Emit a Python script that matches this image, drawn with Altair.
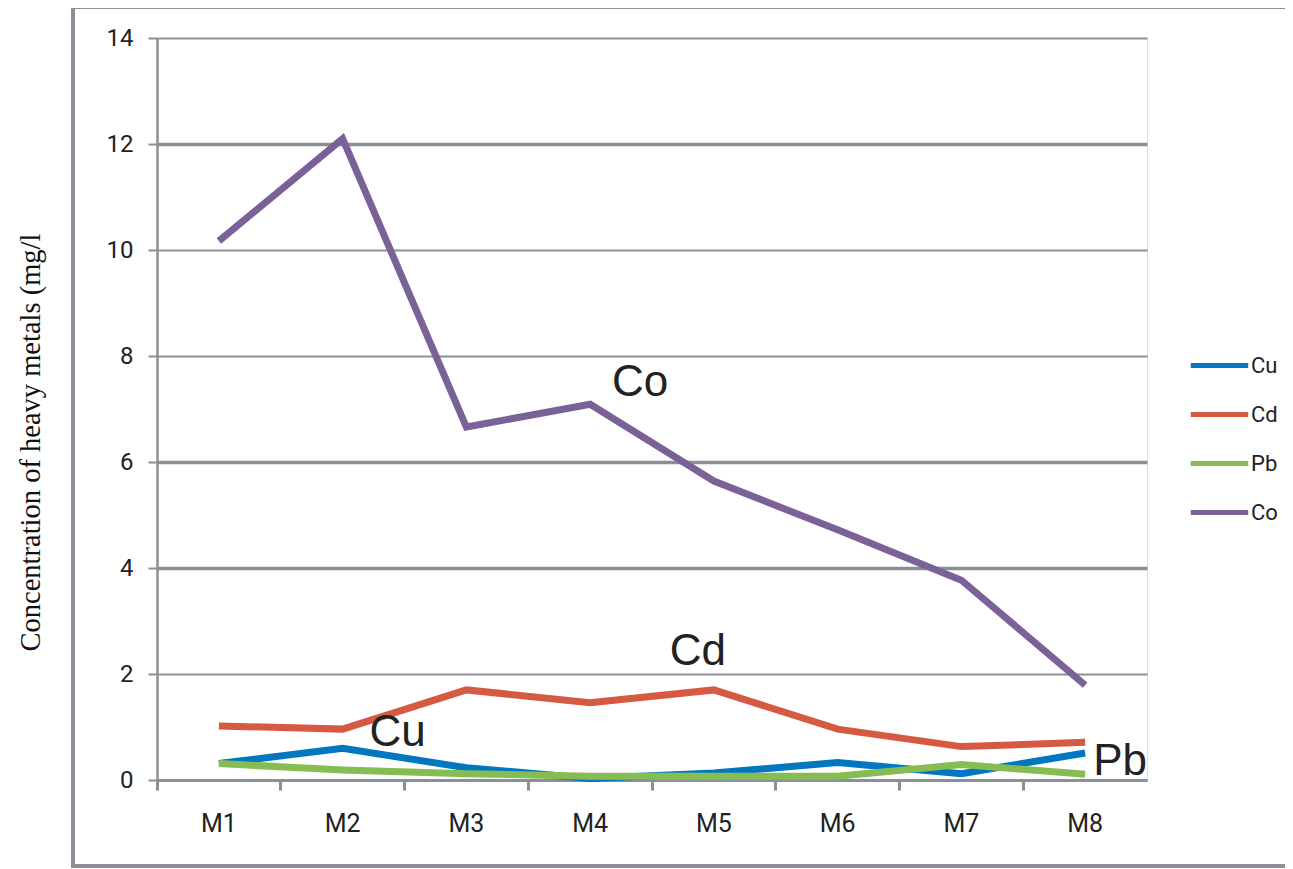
import altair as alt
import pandas as pd

sites = ["M1", "M2", "M3", "M4", "M5", "M6", "M7", "M8"]
cu = [0.31, 0.60, 0.23, 0.03, 0.13, 0.33, 0.12, 0.51]
cd = [1.02, 0.96, 1.70, 1.46, 1.70, 0.96, 0.63, 0.71]
pb = [0.31, 0.19, 0.12, 0.07, 0.07, 0.07, 0.29, 0.11]
co = [10.17, 12.10, 6.66, 7.09, 5.64, 4.72, 3.77, 1.79]

metals = ["Cu", "Cd", "Pb", "Co"]
colors = ["#0077BE", "#D65A42", "#86BD53", "#7A6198"]

ann_text = ["Co", "Cd", "Cu", "Pb"]
ann_site = ["M4", "M5", "M2", "M8"]
ann_value = [7.49, 2.42, 0.89, 0.34]
ann_dx = [50, -16, 55, 35]

rows = []
for name, vals in zip(metals, [cu, cd, pb, co]):
    for s, v in zip(sites, vals):
        rows.append({"site": s, "metal": name, "value": v})
df = pd.DataFrame(rows)
ann = pd.DataFrame({"text": ann_text, "site": ann_site, "value": ann_value, "dx": ann_dx})

W, H = 990, 742
BAND_HALF = W / len(sites) / 2
grid_gray = "#8A9097"

x_enc = alt.X(
    "site:N", sort=sites, title=None,
    scale=alt.Scale(domain=sites, paddingInner=0, paddingOuter=0),
    axis=alt.Axis(
        labelAngle=0, labelFont="Roboto", labelFontSize=25, labelColor="#222222",
        labelPadding=21, domainColor=grid_gray, domainWidth=3, tickColor=grid_gray,
        tickWidth=3, tickSize=10, bandPosition=0, grid=False,
    ),
)
y_enc = alt.Y(
    "value:Q",
    scale=alt.Scale(domain=[0, 14], nice=False),
    axis=alt.Axis(
        values=[0, 2, 4, 6, 8, 10, 12, 14],
        title="Concentration of heavy metals (mg/l",
        titleFont="Liberation Serif", titleFontSize=28.5, titleFontWeight="normal",
        titleColor="#111111", titleAngle=-90, titleX=-127, titleY=404,
        titleAlign="center", titleBaseline="middle",
        labelFont="Roboto", labelFontSize=24, labelColor="#222222", labelPadding=15,
        domainColor=grid_gray, domainWidth=2.5, tickColor=grid_gray, tickWidth=2,
        tickSize=9, grid=True, gridColor=grid_gray,
        gridWidth={"condition": {"test": "datum.value == 12 || datum.value == 4 || datum.value == 6",
                                 "value": 3.5}, "value": 2},
    ),
)

lines = alt.Chart(df).mark_line(strokeWidth=7, strokeJoin="miter", strokeCap="butt").encode(
    x=x_enc,
    y=y_enc,
    color=alt.Color(
        "metal:N",
        scale=alt.Scale(domain=metals, range=colors),
        legend=alt.Legend(
            title=None, orient="none", legendX=1031, legendY=296,
            symbolType="stroke", symbolStrokeWidth=5, symbolSize=3300,
            labelFont="Roboto", labelFontSize=22, labelColor="#222222",
            labelOffset=0, rowPadding=6,
        ),
    ),
    order=alt.Order("site:N"),
)

labels = alt.Chart(ann).transform_calculate(
    off=f"datum.dx + {BAND_HALF}"
).mark_text(
    font="Liberation Sans", fontSize=44, color="#222222", align="center", baseline="middle"
).encode(
    x=alt.X("site:N", sort=sites, scale=alt.Scale(domain=sites)),
    y=alt.Y("value:Q"),
    text="text:N",
    xOffset=alt.XOffset("off:Q", scale=None),
)

frame_gray = "#8A9097"
frame_left = alt.Chart(pd.DataFrame({"a": [0]})).mark_rule(color=frame_gray, strokeWidth=4, clip=False).encode(
    x=alt.value(-84), y=alt.value(-31), y2=alt.value(828)
)
frame_top = alt.Chart(pd.DataFrame({"a": [0]})).mark_rule(color=frame_gray, strokeWidth=4, clip=False).encode(
    x=alt.value(-86), x2=alt.value(1134), y=alt.value(-31)
)
frame_bottom = alt.Chart(pd.DataFrame({"a": [0]})).mark_rule(color=frame_gray, strokeWidth=4, clip=False).encode(
    x=alt.value(-86), x2=alt.value(1134), y=alt.value(828)
)

chart = alt.layer(frame_left, frame_top, frame_bottom, lines, labels).properties(
    width=W, height=H,
    autosize=alt.AutoSizeParams(type="none"),
    padding={"left": 149, "top": 30, "right": 138, "bottom": 88},
).configure_view(stroke=None).configure(background="white")

chart.save("out.html", embed_options={"renderer": "svg", "actions": False})
